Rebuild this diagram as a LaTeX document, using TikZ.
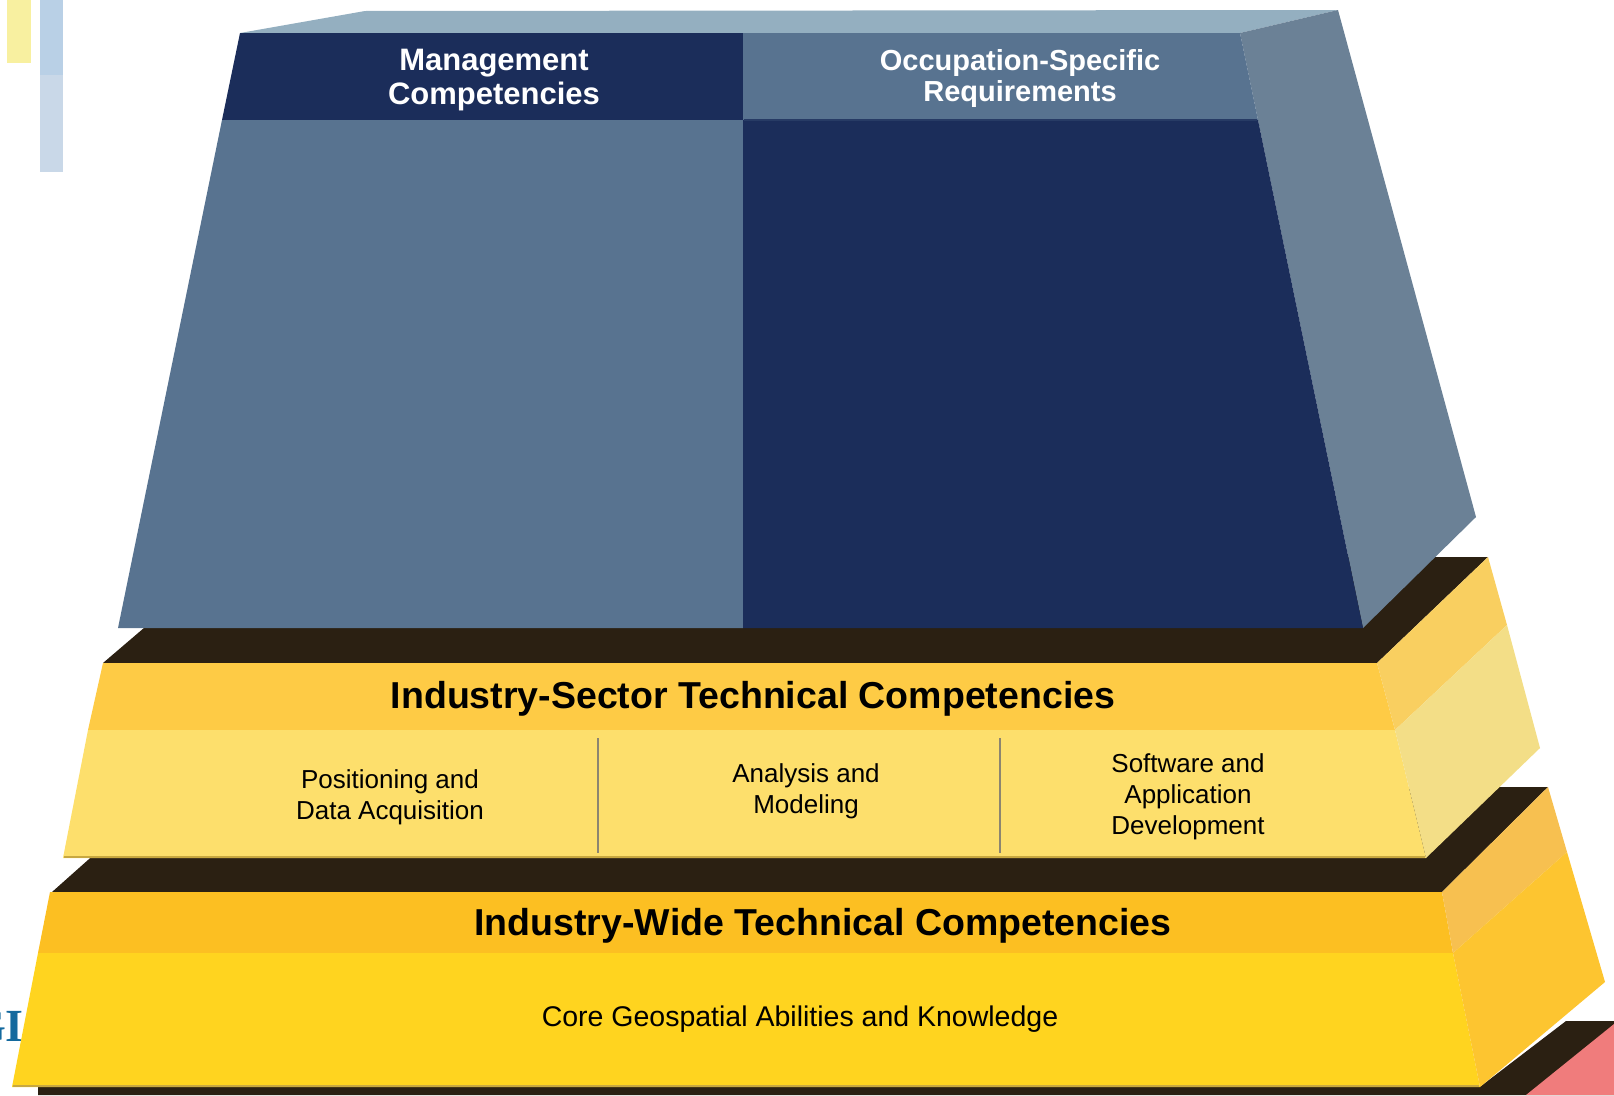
\documentclass[tikz,border=0pt]{standalone}
\usepackage{fontspec}
\setmainfont{Liberation Sans}
\newfontfamily\serifbold{Liberation Serif}
\definecolor{topface}{HTML}{94AFC0}
\definecolor{navy}{HTML}{1B2D5A}
\definecolor{midblue}{HTML}{587390}
\definecolor{sideblue}{HTML}{6B8196}
\definecolor{darkband}{HTML}{2B2012}
\definecolor{sectitle}{HTML}{FECB45}
\definecolor{seclow}{HTML}{FDDF6C}
\definecolor{secsideup}{HTML}{F9CF60}
\definecolor{secsidelow}{HTML}{F3DE87}
\definecolor{widetitle}{HTML}{FCBF22}
\definecolor{widelow}{HTML}{FFD41F}
\definecolor{widesideup}{HTML}{F7C050}
\definecolor{widesidelow}{HTML}{FDC530}
\definecolor{pinkside}{HTML}{F07C7C}
\definecolor{shadowline}{HTML}{C8A840}
\definecolor{divider}{HTML}{8C8570}
\definecolor{gisblue}{HTML}{13699E}
\definecolor{fadeyellow}{HTML}{F8F0A0}
\definecolor{fadeblue}{HTML}{B9D0E6}
\definecolor{fadeblue2}{HTML}{C9D8E8}
\tikzset{
  face/.style={draw=none},
  wlabel/.style={text=white, font=\bfseries, align=center, inner sep=0pt},
  blabel/.style={text=black, align=center, inner sep=0pt},
  divline/.style={draw=divider, line width=2.5pt}
}
\begin{document}
\begin{tikzpicture}[x=1pt,y=-1pt]
\useasboundingbox (0,0) rectangle (1614,1095);
% faint artefacts top-left
\fill[fadeyellow] (7,0) rectangle (31,63);
\fill[fadeblue] (40,0) rectangle (63,75);
\fill[fadeblue2] (40,75) rectangle (63,172);
% clipped blue text at left
\node[text=gisblue, anchor=east, inner sep=0pt, font=\serifbold\bfseries\fontsize{46}{50}\selectfont] (gis) at (24,1026) {GI};
% bottom dark band and pink side
\fill[darkband] (38,1086) -- (1481,1086) -- (1566,1021) -- (1614,1021) -- (1614,1095) -- (38,1095) -- cycle;
\fill[pinkside] (1614,1024) -- (1614,1095) -- (1526,1095) -- cycle;
% industry-wide slab
\fill[darkband] (52,892) -- (1442,892) -- (1548,787) -- (170,787) -- cycle;
\fill[widetitle] (50,892) -- (1442,892) -- (1453,953) -- (38,953) -- cycle;
\fill[widelow] (38,953) -- (1453,953) -- (1480,1087) -- (12,1087) -- cycle;
\fill[widesideup] (1442,892) -- (1548,787) -- (1567,852) -- (1453,953) -- cycle;
\fill[widesidelow] (1453,953) -- (1567,852) -- (1605,982) -- (1480,1087) -- cycle;
\draw[shadowline, line width=2pt] (13,1086) -- (1479,1086);
% industry-sector slab
\fill[darkband] (103,663) -- (1377,663) -- (1488,557) -- (227,557) -- cycle;
\fill[sectitle] (103,663) -- (1377,663) -- (1395,730) -- (88,730) -- cycle;
\fill[seclow] (88,730) -- (1395,730) -- (1426,858) -- (63,858) -- cycle;
\fill[secsideup] (1377,663) -- (1488,557) -- (1507,625) -- (1395,730) -- cycle;
\fill[secsidelow] (1395,730) -- (1507,625) -- (1540,748) -- (1426,858) -- cycle;
\draw[shadowline, line width=2pt] (64,857) -- (1425,857);
\draw[divline] (598,738) -- (598,853);
\draw[divline] (1000,738) -- (1000,853);
% top block
\fill[topface] (240,33) -- (365,11) -- (1338,10) -- (1240,33) -- cycle;
\fill[sideblue] (1240,33) -- (1338,10) -- (1476,517) -- (1363,628) -- cycle;
\fill[navy] (240,33) -- (743,33) -- (743,120) -- (222,120) -- cycle;
\fill[midblue] (743,33) -- (1240,33) -- (1258,120) -- (743,120) -- cycle;
\fill[midblue] (222,120) -- (743,120) -- (743,628) -- (118,628) -- cycle;
\fill[navy] (743,120) -- (1258,120) -- (1363,628) -- (743,628) -- cycle;
\draw[navy!80!midblue, line width=2pt] (744,120) -- (1257,120);
% texts
\node[wlabel, font=\bfseries\fontsize{31}{34}\selectfont] (mgmt) at (494,80) {Management\\Competencies};
\node[wlabel, font=\bfseries\fontsize{29}{31}\selectfont] (occ) at (1020,78) {Occupation-Specific\\Requirements};
\node[blabel, font=\bfseries\fontsize{37.5}{42}\selectfont] (sectorT) at (753,699) {Industry-Sector Technical Competencies};
\node[blabel, font=\fontsize{26}{31}\selectfont] (pos) at (390,797) {Positioning and\\Data Acquisition};
\node[blabel, font=\fontsize{26}{31}\selectfont] (ana) at (806,791) {Analysis and\\Modeling};
\node[blabel, font=\fontsize{26}{31}\selectfont] (sw) at (1188,797) {Software and\\Application\\Development};
\node[blabel, font=\bfseries\fontsize{37.5}{42}\selectfont] (wideT) at (823,926) {Industry-Wide Technical Competencies};
\node[blabel, font=\fontsize{28.5}{32}\selectfont] (core) at (800,1019) {Core Geospatial Abilities and Knowledge};
\end{tikzpicture}
\end{document}
